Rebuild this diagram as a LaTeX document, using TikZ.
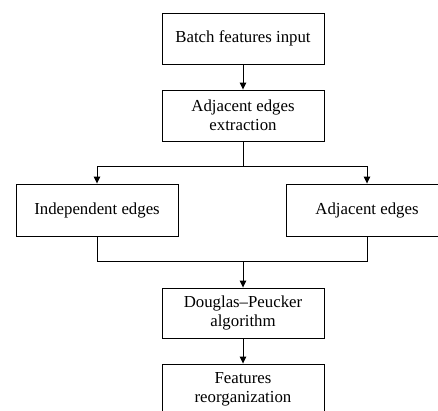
\documentclass[tikz,border=0pt]{standalone}
\usepackage{fontspec}
\setmainfont{Liberation Serif}
\usetikzlibrary{arrows.meta}
\begin{document}
\begin{tikzpicture}[x=1pt,y=-1pt,
  box/.style={draw,line width=0.9pt,minimum width=162pt,minimum height=51pt,
    align=center,inner sep=2pt,font=\fontsize{16.8}{19}\selectfont},
  link/.style={line width=0.9pt},
  arr/.style={link,-{Triangle[length=7pt,width=6.5pt]}}]
\useasboundingbox (0,0) rectangle (438,410);
\clip (0,0) rectangle (438,410);
\node[box] (b1) at (243,38.5) {Batch features input};
\node[box] (b2) at (243,115.5) {Adjacent edges\\extraction};
\node[box,minimum height=52pt] (b3) at (97,210) {Independent edges};
\node[box,minimum height=52pt] (b4) at (367,210) {Adjacent edges};
\node[box,minimum height=50pt] (b5) at (243,313) {Douglas–Peucker\\algorithm};
\node[box] (b6) at (243,389.5) {Features\\reorganization};
\coordinate (split) at (243,166);
\coordinate (merge) at (243,261);
\draw[arr] (b1) -- (b2);
\draw[link] (b2.south) -- (split);
\draw[arr] (split) -| (b3.north);
\draw[arr] (split) -| (b4.north);
\draw[link] (b3.south) |- (merge);
\draw[link] (b4.south) |- (merge);
\draw[arr] (merge) -- (b5.north);
\draw[arr] (b5) -- (b6);
\end{tikzpicture}
\end{document}
